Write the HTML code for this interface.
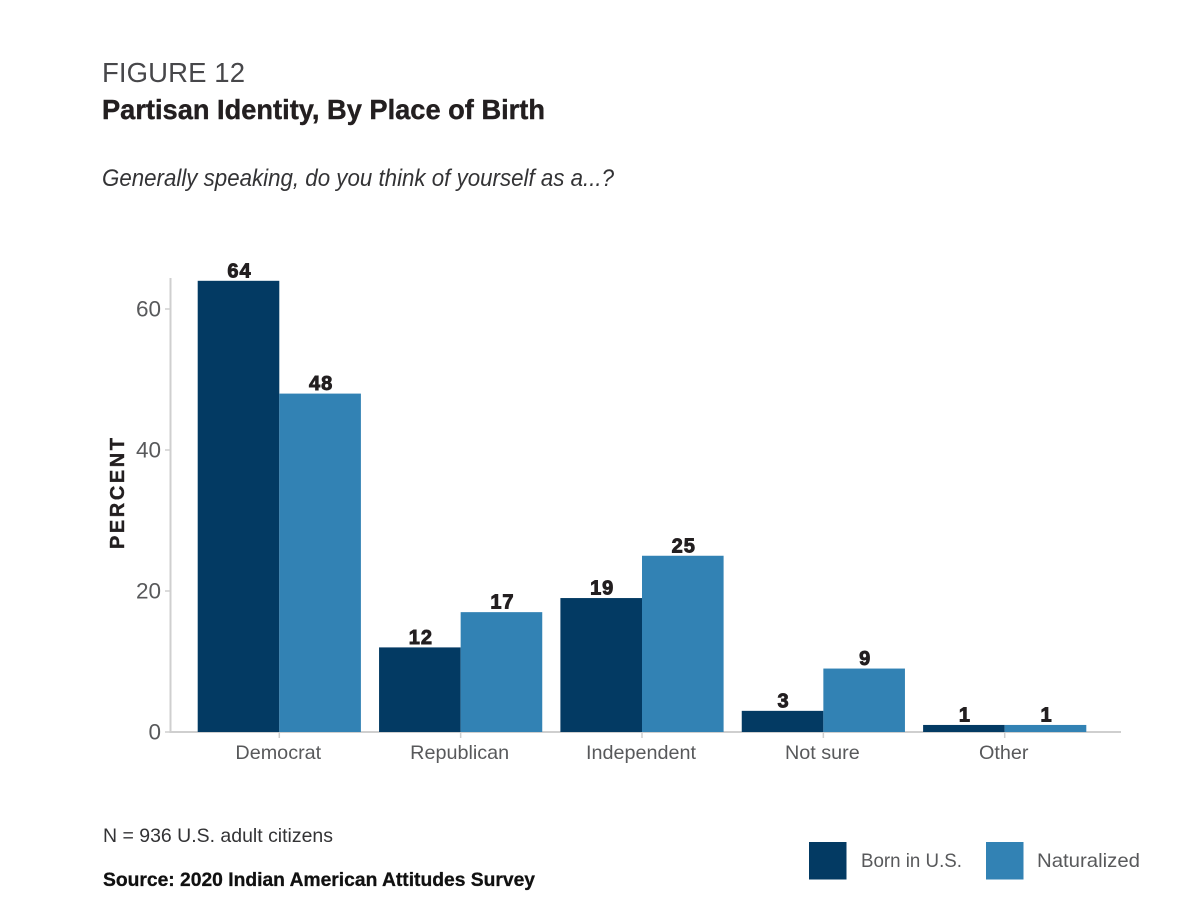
<!DOCTYPE html>
<html lang="en">
<head>
<meta charset="utf-8">
<title>Partisan Identity, By Place of Birth</title>
<style>
html,body{margin:0;padding:0;background:#fff;}
svg{display:block;font-family:"Liberation Sans",sans-serif;}
</style>
</head>
<body>
<svg id="chart" width="1200" height="912" viewBox="0 0 1200 912" xmlns="http://www.w3.org/2000/svg">
  <rect x="0" y="0" width="1200" height="912" fill="#ffffff"/>
  <text x="102" y="82" font-size="27.5" fill="#47474a" textLength="143" lengthAdjust="spacing">FIGURE 12</text>
  <text x="102" y="119" font-size="27.5" font-weight="700" fill="#231f20" stroke="#231f20" stroke-width="0.4" textLength="443" lengthAdjust="spacingAndGlyphs">Partisan Identity, By Place of Birth</text>
  <text x="102" y="186" font-size="24" font-style="italic" fill="#333335" textLength="512" lengthAdjust="spacingAndGlyphs">Generally speaking, do you think of yourself as a...?</text>
  <text transform="translate(124,549) rotate(-90)" font-size="20" font-weight="700" fill="#231f20" stroke="#231f20" stroke-width="0.4" textLength="111" lengthAdjust="spacing">PERCENT</text>
  <g id="plot"></g>
  <text x="103" y="842" font-size="19.5" fill="#333335" textLength="230" lengthAdjust="spacingAndGlyphs">N = 936 U.S. adult citizens</text>
  <text x="103" y="886" font-size="19.5" font-weight="700" fill="#111111" stroke="#111111" stroke-width="0.3" textLength="432" lengthAdjust="spacingAndGlyphs">Source: 2020 Indian American Attitudes Survey</text>
  <g>
    <rect x="809" y="842" width="37.5" height="37.5" fill="#033a63"/>
    <text x="861" y="867" font-size="19.5" fill="#58595b" textLength="101" lengthAdjust="spacingAndGlyphs">Born in U.S.</text>
    <rect x="986" y="842" width="37.5" height="37.5" fill="#3282b4"/>
    <text x="1037" y="867" font-size="19.5" fill="#58595b" textLength="103" lengthAdjust="spacingAndGlyphs">Naturalized</text>
  </g>
</svg>
<script>
const categories = ["Democrat", "Republican", "Independent", "Not sure", "Other"];
const bornInUS = [64, 12, 19, 3, 1];
const naturalized = [48, 17, 25, 9, 1];
const yTicks = [0, 20, 40, 60];

const NS = "http://www.w3.org/2000/svg";
const plot = document.getElementById("plot");
const AXIS = "#cfcfcf";
const TICK_TEXT = "#58595b";
const VALUE_TEXT = "#231f20";
const DARK = "#033a63";
const LIGHT = "#3282b4";

function yScale(v) { return 732 - v * 7.05; }
function xCenter(i) { return 279.3 + i * 181.35; }
const barWidth = 81.6;

function make(tag, attrs, text) {
  const el = document.createElementNS(NS, tag);
  for (const k in attrs) el.setAttribute(k, attrs[k]);
  if (text !== undefined) el.textContent = text;
  plot.appendChild(el);
  return el;
}

yTicks.forEach(function (t) {
  const mark = make("line", { x1: 165, x2: 171, y1: yScale(t), y2: yScale(t), stroke: AXIS, "stroke-width": 1.5 });
  
  
  const label = make("text", { x: 161, y: yScale(t) + 7.5, "text-anchor": "end", "font-size": 22.5, fill: TICK_TEXT }, String(t));
  
  
});

const yAxis = make("line", { x1: 170.5, x2: 170.5, y1: 278, y2: 733, stroke: AXIS, "stroke-width": 2 });



const xAxis = make("line", { x1: 170, x2: 1121, y1: 732, y2: 732, stroke: AXIS, "stroke-width": 2 });



categories.forEach(function (c, i) {
  const cx = xCenter(i);
  const mark = make("line", { x1: cx, x2: cx, y1: 732, y2: 738, stroke: AXIS, "stroke-width": 1.5 });
  
  

  const label = make("text", { x: cx - 1, y: 759, "text-anchor": "middle", "font-size": 19.8, fill: TICK_TEXT }, c);
  
  

  const barA = make("rect", { x: cx - barWidth, y: yScale(bornInUS[i]), width: barWidth, height: yScale(0) - yScale(bornInUS[i]), fill: DARK });
  
  

  const barB = make("rect", { x: cx, y: yScale(naturalized[i]), width: barWidth, height: yScale(0) - yScale(naturalized[i]), fill: LIGHT });
  
  

  const valA = make("text", { x: cx - barWidth / 2 + 1, y: yScale(bornInUS[i]) - 3.5, "text-anchor": "middle", "font-size": 20, "font-weight": 700, "letter-spacing": 1, fill: VALUE_TEXT, stroke: VALUE_TEXT, "stroke-width": 0.9 }, String(bornInUS[i]));
  
  

  const valB = make("text", { x: cx + barWidth / 2 + 1, y: yScale(naturalized[i]) - 3.5, "text-anchor": "middle", "font-size": 20, "font-weight": 700, "letter-spacing": 1, fill: VALUE_TEXT, stroke: VALUE_TEXT, "stroke-width": 0.9 }, String(naturalized[i]));
  
  
});
</script>
</body>
</html>
